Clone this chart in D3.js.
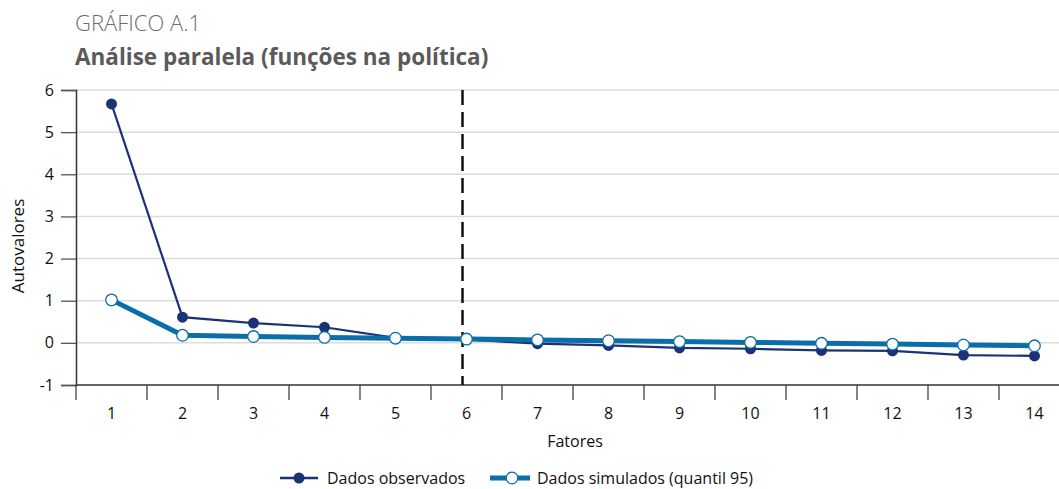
<!DOCTYPE html>
<html>
<head>
<meta charset="utf-8">
<script src="https://cdnjs.cloudflare.com/ajax/libs/d3/7.8.5/d3.min.js"></script>
<style>
  body { margin: 0; background: #fff; }
  svg { display: block; font-family: "Open Sans", "Noto Sans", sans-serif; }
</style>
</head>
<body>
<script>
const WIDTH = 1059;
const HEIGHT = 489;

const fatores = [1, 2, 3, 4, 5, 6, 7, 8, 9, 10, 11, 12, 13, 14];
const observados = [5.67, 0.61, 0.47, 0.37, 0.12, 0.08, -0.02, -0.06, -0.12, -0.14, -0.18, -0.19, -0.29, -0.31];
const simulados = [1.02, 0.18, 0.15, 0.13, 0.11, 0.09, 0.07, 0.05, 0.03, 0.01, -0.01, -0.03, -0.05, -0.07];
const yTicks = [-1, 0, 1, 2, 3, 4, 5, 6];
const corte = 6;

const NAVY = "#1b3275";
const BLUE = "#0a6ea8";

const svg = d3.select("body")
              .append("svg")
              .attr("width", WIDTH)
              .attr("height", HEIGHT);

// titles
svg.append("text")
   .attr("x", 75).attr("y", 31)
   .attr("font-size", 22).attr("font-weight", 300)
   .attr("fill", "#6d6d6d")
   .text("GRÁFICO A.1");
svg.append("text")
   .attr("x", 75).attr("y", 65)
   .attr("font-size", 22.5).attr("font-weight", 700)
   .attr("fill", "#5a5a5a")
   .text("Análise paralela (funções na política)");

// scales
const x = d3.scaleBand()
            .domain(fatores)
            .range([76, 76 + 71 * 14])
            .paddingInner(0).paddingOuter(0);
const y = d3.scaleLinear()
            .domain([-1, 6])
            .range([385, 90]);
const cx = d => x(d) + x.bandwidth() / 2;

// gridlines
svg.append("g")
   .selectAll("line")
   .data(yTicks.filter(t => t > -1))
   .join("line")
   .attr("x1", 76).attr("x2", WIDTH)
   .attr("y1", d => y(d)).attr("y2", d => y(d))
   .attr("stroke", "#dcdcdc")
   .attr("stroke-width", 1.5);

// y axis
const yAxis = svg.append("g")
   .attr("transform", "translate(76,0)")
   .call(d3.axisLeft(y).tickValues(yTicks).tickSize(15).tickPadding(7).tickFormat(d => String(d)));
yAxis.select(".domain").attr("stroke", "#333").attr("stroke-width", 1.5);
yAxis.selectAll(".tick line").attr("stroke", "#555").attr("stroke-width", 1.3);
yAxis.selectAll("text").attr("font-size", 16).attr("fill", "#111").attr("font-family", "Open Sans");

// x axis
svg.append("line")
   .attr("x1", 76).attr("x2", WIDTH)
   .attr("y1", y(-1)).attr("y2", y(-1))
   .attr("stroke", "#333").attr("stroke-width", 1.5);
svg.append("g")
   .selectAll("line")
   .data(fatores)
   .join("line")
   .attr("x1", d => x(d)).attr("x2", d => x(d))
   .attr("y1", y(-1)).attr("y2", y(-1) + 15)
   .attr("stroke", "#333").attr("stroke-width", 1.2);
svg.append("g")
   .selectAll("text")
   .data(fatores)
   .join("text")
   .attr("x", d => cx(d))
   .attr("y", 419)
   .attr("text-anchor", "middle")
   .attr("font-size", 16).attr("fill", "#111")
   .text(d => d);

// axis titles
svg.append("text")
   .attr("transform", "translate(24,246) rotate(-90)")
   .attr("text-anchor", "middle")
   .attr("font-size", 17).attr("fill", "#111")
   .text("Autovalores");
svg.append("text")
   .attr("x", 575).attr("y", 447)
   .attr("text-anchor", "middle")
   .attr("font-size", 16).attr("fill", "#111")
   .text("Fatores");

// dashed cut line
svg.append("line")
   .attr("x1", cx(corte) - 4).attr("x2", cx(corte) - 4)
   .attr("y1", y(6)).attr("y2", y(-1))
   .attr("stroke", "#111").attr("stroke-width", 2.5)
   .attr("stroke-dasharray", "15,7");

const line = d3.line()
               .x((d, i) => cx(fatores[i]))
               .y(d => y(d));

// observed
svg.append("path")
   .datum(observados)
   .attr("d", line)
   .attr("fill", "none")
   .attr("stroke", NAVY)
   .attr("stroke-width", 2.2);
svg.append("g")
   .selectAll("circle")
   .data(observados)
   .join("circle")
   .attr("cx", (d, i) => cx(fatores[i]))
   .attr("cy", d => y(d))
   .attr("r", 5.5)
   .attr("fill", NAVY);

// simulated
svg.append("path")
   .datum(simulados)
   .attr("d", line)
   .attr("fill", "none")
   .attr("stroke", BLUE)
   .attr("stroke-width", 5);
svg.append("g")
   .selectAll("circle")
   .data(simulados)
   .join("circle")
   .attr("cx", (d, i) => cx(fatores[i]))
   .attr("cy", d => y(d))
   .attr("r", 5.8)
   .attr("fill", "#fff")
   .attr("stroke", BLUE)
   .attr("stroke-width", 1.3);

// legend
const lg = svg.append("g").attr("transform", "translate(0,478)");
lg.append("line").attr("x1", 280).attr("x2", 318).attr("y1", 0).attr("y2", 0)
  .attr("stroke", NAVY).attr("stroke-width", 2.5);
lg.append("circle").attr("cx", 299).attr("cy", 0).attr("r", 5.5).attr("fill", NAVY);
lg.append("text").attr("x", 327).attr("y", 6)
  .attr("font-size", 16).attr("fill", "#111").text("Dados observados");
lg.append("line").attr("x1", 490).attr("x2", 530).attr("y1", 0).attr("y2", 0)
  .attr("stroke", BLUE).attr("stroke-width", 5);
lg.append("circle").attr("cx", 512).attr("cy", 0).attr("r", 5.8)
  .attr("fill", "#fff").attr("stroke", BLUE).attr("stroke-width", 1.3);
lg.append("text").attr("x", 537).attr("y", 6)
  .attr("font-size", 16).attr("fill", "#111").text("Dados simulados (quantil 95)");
</script>
</body>
</html>
